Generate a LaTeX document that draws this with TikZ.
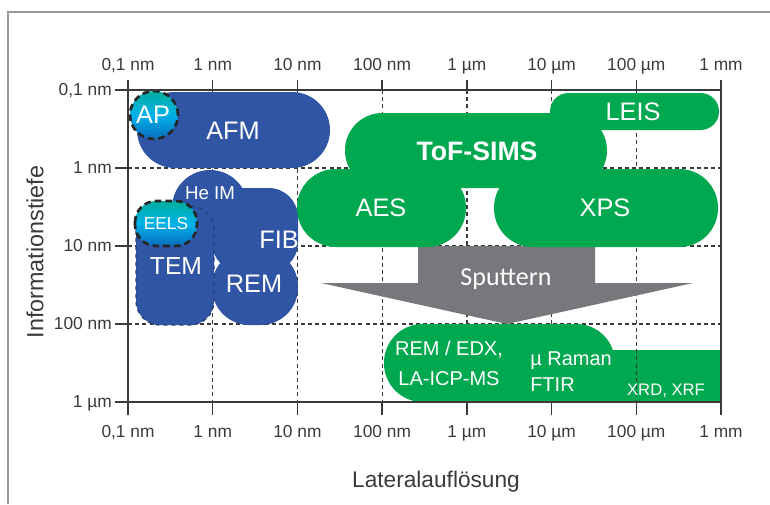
\documentclass[tikz,border=0pt]{standalone}
\usepackage{fontspec}
\setmainfont{Liberation Sans}
\newfontfamily\sputfont{Carlito}

\definecolor{methblue}{HTML}{2F55A4}
\definecolor{methgreen}{HTML}{00A84F}
\definecolor{sputgray}{HTML}{76787B}
\definecolor{gradteal}{HTML}{00AE9E}
\definecolor{gradcyan}{HTML}{00B2E8}
\definecolor{gradblue}{HTML}{0B6CBD}
\definecolor{axisgray}{HTML}{3A3A3A}

\tikzset{
	blueblob/.style={fill=methblue},
	greenblob/.style={fill=methgreen},
	gradblob/.style={top color=gradteal,bottom color=gradblue,middle color=gradcyan,
		draw=black!85,line width=2pt,dash pattern=on 5pt off 3pt},
	methlabel/.style={text=white,inner sep=0pt,font=\fontsize{19}{19}\selectfont},
	bulklabel/.style={text=white,inner sep=0pt,font=\fontsize{15}{15}\selectfont},
	scalelabel/.style={text=axisgray,inner sep=0pt,font=\fontsize{13}{13}\selectfont},
	gridline/.style={axisgray,line width=0.9pt,dash pattern=on 3pt off 2.4pt},
	axisline/.style={axisgray,line width=1.1pt}
}

\begin{document}
\begin{tikzpicture}[x=0.75pt,y=-0.75pt]
	\useasboundingbox (0,0) rectangle (770,504);
	\draw[black!40,line width=1.2pt] (8,504) -- (8,12) -- (770,12);
	
	%bulk methods, right part lies under the grid
	\fill[greenblob] (560,350) rectangle (721,402);
	
	%dashed grid
	\foreach \gx in {212.7,297.4,382.1,466.9,551.6,636.3}
		\draw[gridline] (\gx,90) -- (\gx,402);
	\foreach \gy in {168,246,324}
		\draw[gridline] (128,\gy) -- (721,\gy);
	
	%sputtering arrow and the bulk methods below it
	\fill[sputgray] (418,246) -- (595,246) -- (595,283) -- (693,283) -- (507,324)
	-- (321,283) -- (418,283) -- cycle;
	\fill[greenblob,rounded corners=29pt] (384,324) rectangle (615,402);
	\fill[greenblob] (600,350) rectangle (625,402);
	
	%surface methods, blue
	\fill[blueblob,rounded corners=28.5pt] (137,92) rectangle (330,168); %AFM
	\fill[blueblob] (210,208) circle[radius=28.5pt]; %He IM
	\fill[blueblob,rounded corners=22pt] (212,188) rectangle (298,272); %FIB
	\fill[blueblob,rounded corners=28pt] (212,249) rectangle (298,325); %REM
	\filldraw[blueblob,draw=methblue!75!black,dashed,line width=1pt,
	rounded corners=18pt] (136,206) rectangle (214,325); %TEM
	\draw[gradblob,rounded corners=16pt] (135,201) rectangle (197,246); %EELS
	\draw[gradblob] (154,115) circle[radius=18pt]; %AP
	
	%surface methods, green
	\fill[greenblob,rounded corners=13.8pt] (550,93) rectangle (719,130); %LEIS
	\fill[greenblob,rounded corners=28pt] (345,113) rectangle (607,188); %ToF-SIMS
	\fill[greenblob,rounded corners=29pt] (297,169) rectangle (466,247); %AES
	\fill[greenblob,rounded corners=29pt] (494,169) rectangle (718,247); %XPS
	
	%axes and ticks
	\draw[axisline] (115,90) -- (721,90);
	\draw[axisline] (115,402) -- (721,402);
	\draw[axisline] (128,80) -- (128,412);
	\draw[axisline] (721,80) -- (721,415);
	\foreach \gx in {128,212.7,297.4,382.1,466.9,551.6,636.3,721}{
		\draw[axisline] (\gx,80) -- (\gx,90);
		\draw[axisline] (\gx,402) -- (\gx,415);
	}
	\foreach \gy in {168,246,324}
		\draw[axisline] (115,\gy) -- (128,\gy);
	
	%scale labels
	\foreach \i/\gx/\lab in {0/128/{0,1 nm},1/212.7/{1 nm},2/297.4/{10 nm},
		3/382.1/{100 nm},4/466.9/{1 µm},5/551.6/{10 µm},6/636.3/{100 µm},7/721/{1 mm}}{
		\node[scalelabel,anchor=base] (top\i) at (\gx,70) {\lab};
		\node[scalelabel,anchor=base] (bot\i) at (\gx,437) {\lab};
	}
	\foreach \i/\gy/\lab in {0/95/{0,1 nm},1/173/{1 nm},2/251/{10 nm},
		3/329/{100 nm},4/407/{1 µm}}
		\node[scalelabel,anchor=base east] (left\i) at (112,\gy) {\lab};
	
	\node[text=axisgray,rotate=90,font=\fontsize{17.5}{17.5}\selectfont]
	(depth) at (35,252) {Informationstiefe};
	\node[text=axisgray,font=\fontsize{17}{17}\selectfont]
	(lateral) at (436,482) {Lateralauflösung};
	
	%method names
	\node[methlabel] (afm) at (233,131) {AFM};
	\node[methlabel] (ap) at (153,115) {AP};
	\node[methlabel,font=\fontsize{14}{14}\selectfont] (heim) at (210,193) {He IM};
	\begin{scope}
		\clip (212,180) rectangle (298,300);
		\node[methlabel] (fib) at (279,240) {FIB};
	\end{scope}
	\node[methlabel] (rem) at (254,284) {REM};
	\node[methlabel,font=\fontsize{18.5}{18.5}\selectfont] (tem) at (176,266) {TEM};
	\node[methlabel,font=\fontsize{13}{13}\selectfont] (eels) at (166,224) {EELS};
	
	\node[methlabel] (leis) at (633,112) {LEIS};
	\node[methlabel,font=\fontsize{20}{20}\selectfont\bfseries] (tofsims) at (477,151) {ToF-SIMS};
	\node[methlabel] (aes) at (381,208) {AES};
	\node[methlabel] (xps) at (605,208) {XPS};
	
	\node[text=white,anchor=base,font=\sputfont\fontsize{19.5}{19.5}\selectfont]
	(sputtern) at (506,285) {Sputtern};
	
	\node[bulklabel,anchor=base] (remedx) at (449,355) {REM / EDX,};
	\node[bulklabel,anchor=base] (laicp) at (449,385) {LA-ICP-MS};
	\node[bulklabel,anchor=base west] (raman) at (530,365) {µ Raman};
	\node[bulklabel,anchor=base west] (ftir) at (530,391) {FTIR};
	\node[bulklabel,anchor=base,font=\fontsize{12.5}{12.5}\selectfont] (xrd) at (666,395) {XRD, XRF};
\end{tikzpicture}
\end{document}
